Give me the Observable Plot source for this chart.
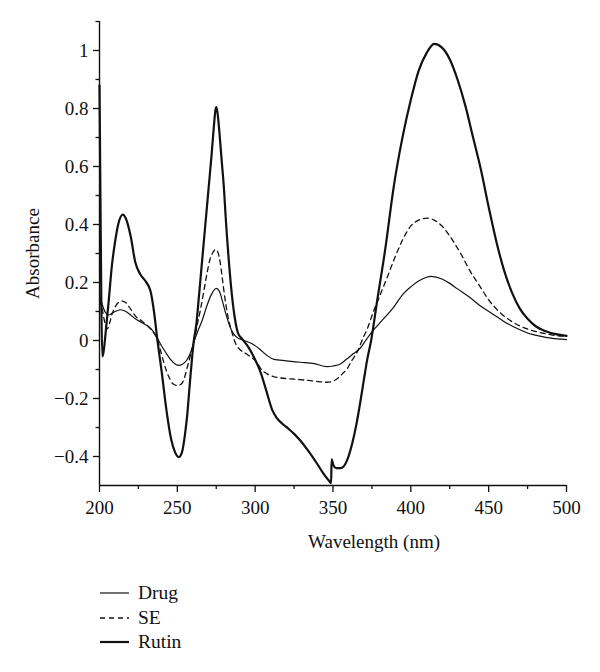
<!DOCTYPE html>
<html>
<head>
<meta charset="utf-8">
<script src="https://cdn.jsdelivr.net/npm/d3@7"></script>
<script src="https://cdn.jsdelivr.net/npm/@observablehq/plot@0.6"></script>
<style>
  html, body { margin: 0; padding: 0; background: #fff; }
  #wrap { position: relative; width: 600px; height: 672px; font-family: "Liberation Serif", "Times New Roman", serif; }
  #legend { position: absolute; left: 0; top: 570px; width: 600px; height: 102px; }
  .item { position: absolute; left: 100px; height: 20px; display: flex; align-items: center; font-size: 19.5px; color: #111; }
  .item svg { margin-right: 9px; }
</style>
</head>
<body>
<div id="wrap">
  <div id="chart"></div>
  <div id="legend"></div>
</div>
<script>
// ---- data ----
const seriesNames = ["Drug", "SE", "Rutin"];

const drug = [
  [200,0.16],[202,0.12],[204,0.095],[206,0.088],[208,0.094],[210,0.1],[213.5,0.106],[217,0.1],[220,0.088],
  [223,0.075],[227,0.062],[231,0.05],[234,0.035],[237,0.01],[240,-0.02],[243,-0.045],[246,-0.068],[249,-0.083],
  [251,-0.086],[253,-0.083],[256,-0.068],[258,-0.048],[260.6,-0.006],[263,0.03],[266,0.07],[269,0.12],[272,0.16],
  [275,0.18],[277,0.17],[279,0.135],[281,0.095],[284,0.045],[288.4,0.01],[293,0.0],[298,-0.011],[303,-0.03],
  [307.7,-0.052],[312,-0.065],[320,-0.07],[329,-0.075],[338,-0.08],[346,-0.09],[350,-0.088],[355,-0.08],
  [359,-0.063],[363,-0.046],[367.7,-0.025],[371,0.0],[375,0.03],[380,0.06],[389,0.115],[395,0.16],[400,0.185],
  [405,0.205],[410,0.218],[413,0.221],[420,0.212],[425,0.197],[430,0.178],[438,0.148],[445,0.118],[453,0.09],
  [460,0.065],[468,0.042],[475,0.026],[483,0.015],[490,0.008],[500,0.003]
];

const se = [
  [200,0.14],[202,0.1],[203.5,0.06],[205,0.04],[206.5,0.06],[208,0.09],[210,0.115],[212,0.13],[214.6,0.136],
  [217,0.13],[220,0.108],[223,0.085],[227,0.068],[231,0.05],[234,0.032],[237,0.005],[239,-0.03],[241,-0.07],
  [243,-0.105],[245,-0.13],[247,-0.148],[250,-0.155],[252.5,-0.15],[254.5,-0.13],[256,-0.1],[258,-0.06],
  [260.6,-0.006],[263,0.06],[265,0.11],[267,0.17],[269,0.23],[271,0.28],[273,0.305],[274.5,0.314],[276,0.305],
  [277.5,0.27],[279,0.21],[281,0.13],[283,0.07],[285,0.03],[287.4,-0.01],[290,-0.03],[294,-0.045],[298,-0.06],
  [301,-0.075],[304,-0.1],[307.7,-0.115],[312,-0.125],[316,-0.129],[322,-0.132],[329,-0.135],[338,-0.14],
  [346,-0.144],[350,-0.14],[352.7,-0.132],[356,-0.115],[359,-0.098],[362,-0.07],[365.5,-0.04],[369,0.005],
  [372,0.04],[376,0.1],[380.5,0.16],[385,0.22],[389,0.276],[395,0.35],[400,0.395],[405,0.415],[410.5,0.422],
  [415,0.415],[420,0.395],[425,0.36],[432,0.3],[438,0.24],[444.7,0.184],[450,0.14],[457.6,0.095],[465,0.065],
  [474.7,0.04],[485,0.025],[492,0.018],[500,0.014]
];

const rutin = [
  [200,0.88],[200.6,0.5],[201.2,0.12],[201.8,-0.055],[202.6,-0.04],[204,0.03],[205.8,0.13],[208,0.26],[210,0.34],
  [212,0.4],[215,0.434],[217,0.42],[220,0.36],[223,0.27],[226,0.23],[229.5,0.205],[232.8,0.17],[235,0.1],
  [237,0.01],[240,-0.11],[243,-0.24],[246,-0.34],[248.5,-0.385],[251,-0.402],[253,-0.385],[255,-0.32],
  [256.3,-0.26],[258,-0.15],[260.6,0],[262.3,0.06],[264,0.16],[266,0.28],[268,0.4],[270,0.52],[272,0.64],
  [273.5,0.74],[274.5,0.795],[275,0.805],[275.7,0.79],[277,0.72],[278.5,0.62],[280,0.52],[281,0.43],[283,0.28],
  [285,0.16],[287,0.075],[289,0.025],[291.7,0.005],[295,-0.018],[299,-0.055],[303.5,-0.11],[307,-0.17],
  [311,-0.24],[314,-0.268],[320,-0.298],[325,-0.322],[329,-0.345],[334,-0.38],[339.8,-0.425],[344,-0.46],
  [347.3,-0.483],[348.8,-0.492],[349.1,-0.41],[350.3,-0.43],[352,-0.44],[355,-0.44],[358,-0.425],[362.3,-0.356],
  [365,-0.29],[367.7,-0.207],[370,-0.13],[372,-0.065],[374.5,0],[378.4,0.138],[383.7,0.32],[389,0.53],[395,0.71],
  [400,0.83],[405,0.93],[410,0.99],[415,1.023],[420,1.01],[425,0.97],[430,0.9],[435,0.81],[440,0.7],[445,0.59],
  [450,0.46],[455,0.34],[460,0.24],[465,0.165],[470,0.11],[475,0.075],[480,0.05],[485,0.035],[490,0.026],
  [495,0.02],[500,0.016]
];

const xMajorTicks = [200, 250, 300, 350, 400, 450, 500];
const xMinorTicks = [225, 275, 325, 375, 425, 475];
const yMajorTicks = [-0.4, -0.2, 0, 0.2, 0.4, 0.6, 0.8, 1];
const yMinorTicks = [-0.3, -0.1, 0.1, 0.3, 0.5, 0.7, 0.9, 1.1];
const xLabel = "Wavelength (nm)";
const yLabel = "Absorbance";

// ---- build table ----
const toRows = (arr, name) => arr.map(([nm, a]) => ({series: name, nm, abs: a}));
const rows = [...toRows(drug, "Drug"), ...toRows(se, "SE"), ...toRows(rutin, "Rutin")];

const FONT = "Liberation Serif, Times New Roman, serif";
const FS = 19;
const yFmt = d => (d < 0 ? "\u2212" : "") + String(Math.abs(d));

const chart = Plot.plot({
  width: 600,
  height: 570,
  marginLeft: 99,
  marginRight: 34,
  marginTop: 21,
  marginBottom: 85,
  style: {fontFamily: FONT, fontSize: FS + "px", color: "#111", background: "#fff", overflow: "visible"},
  x: {domain: [200, 500]},
  y: {domain: [-0.5, 1.1]},
  marks: [
    Plot.axisX(xMajorTicks, {tickSize: 7, tickPadding: 8, fontSize: FS, label: null, strokeWidth: 1.3, tickFormat: d => String(d)}),
    Plot.axisX(xMinorTicks, {tickSize: 4, tickFormat: () => "", label: null, strokeWidth: 1.3}),
    Plot.axisY(yMajorTicks, {tickSize: 6, tickPadding: 5, fontSize: FS, label: null, strokeWidth: 1.3, tickFormat: yFmt}),
    Plot.axisY(yMinorTicks, {tickSize: 3.5, tickFormat: () => "", label: null, strokeWidth: 1.3}),
    Plot.ruleX([200], {y1: -0.5, y2: 1.1, stroke: "#111", strokeWidth: 1.4}),
    Plot.ruleY([-0.5], {x1: 200, x2: 500, stroke: "#111", strokeWidth: 1.4}),
    Plot.line(rows.filter(d => d.series === "Drug"), {x: "nm", y: "abs", stroke: "#111", strokeWidth: 1.2, curve: "monotone-x"}),
    Plot.line(rows.filter(d => d.series === "SE"), {x: "nm", y: "abs", stroke: "#111", strokeWidth: 1.3, strokeDasharray: "5,4", curve: "monotone-x"}),
    Plot.line(rows.filter(d => d.series === "Rutin"), {x: "nm", y: "abs", stroke: "#111", strokeWidth: 2.2, curve: "monotone-x"}),
    Plot.text([xLabel], {text: d => d, frameAnchor: "bottom", textAnchor: "middle", dx: 41, dy: 62, fontSize: FS, fill: "#111"}),
    Plot.text([yLabel], {text: d => d, frameAnchor: "left", textAnchor: "middle", rotate: -90, dx: -67, fontSize: FS, fill: "#111"})
  ]
});
document.getElementById("chart").appendChild(chart);

// ---- legend (below the SVG) ----
const legendStyles = {
  Drug: {w: 1.2, dash: null},
  SE: {w: 1.3, dash: "5,4"},
  Rutin: {w: 2.2, dash: null}
};
const legend = document.getElementById("legend");
seriesNames.forEach((name, i) => {
  const st = legendStyles[name];
  const div = document.createElement("div");
  div.className = "item";
  div.style.top = (13 + i * 24.5) + "px";
  div.innerHTML = `<svg width="29" height="20"><line x1="0" x2="29" y1="10" y2="10" stroke="#111" stroke-width="${st.w}" ${st.dash ? `stroke-dasharray="${st.dash}"` : ""}/></svg><span>${name}</span>`;
  legend.appendChild(div);
});
</script>
</body>
</html>
